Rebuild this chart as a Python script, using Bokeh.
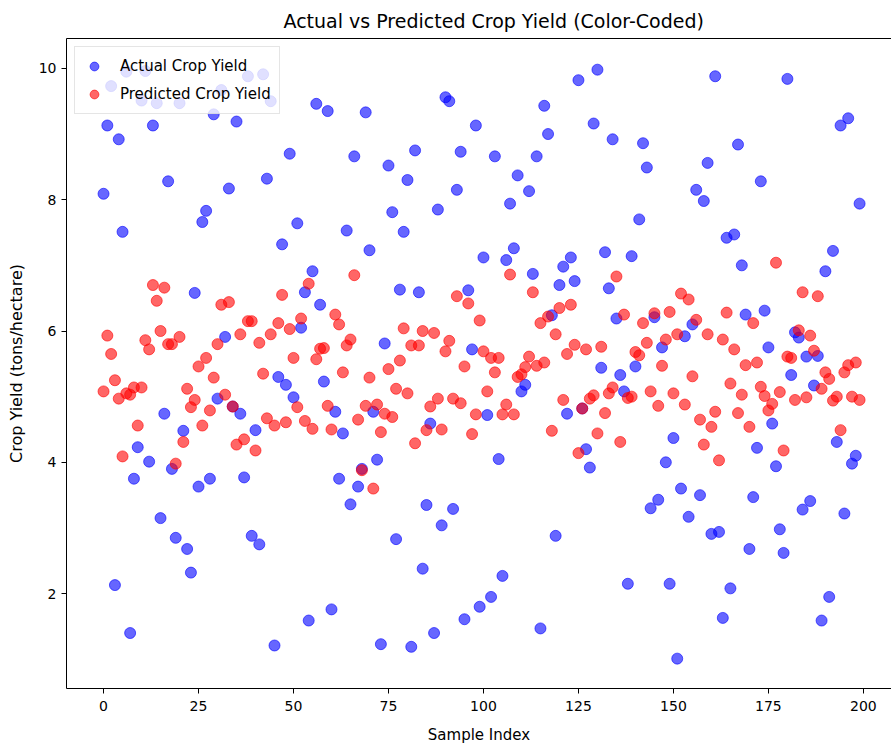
from bokeh.plotting import figure
from bokeh.models import Range1d, FixedTicker, LinearAxis
from bokeh.embed import file_html
from bokeh.resources import INLINE

# ---- data ----
actual = [
    8.09, 9.13, 9.73, 2.13, 8.92, 7.51, 9.95, 1.40, 3.75, 4.23,
    9.51, 9.96, 4.01, 9.13, 9.47, 3.15, 4.74, 8.28, 3.90, 2.85,
    9.47, 4.48, 2.68, 2.32, 6.58, 3.63, 7.66, 7.83, 3.75, 9.30,
    4.97, 9.67, 5.91, 8.17, 4.85, 9.19, 4.74, 3.77, 9.88, 2.88,
    4.49, 2.75, 9.91, 8.32, 9.50, 1.21, 5.30, 7.32, 5.18, 8.70,
    4.99, 7.64, 6.05, 6.59, 1.59, 6.91, 9.46, 6.40, 5.23, 9.35,
    1.76, 4.77, 3.75, 4.44, 7.53, 3.36, 8.66, 3.63, 3.90, 9.33,
    7.23, 4.77, 4.04, 1.23, 5.81, 8.52, 7.81, 2.83, 6.63, 7.51,
    8.30, 1.19, 8.75, 6.59, 2.38, 3.35, 4.59, 1.40, 7.85, 3.04,
    9.56, 9.50, 3.29, 8.15, 8.73, 1.61, 6.62, 5.72, 9.13, 1.80,
    7.12, 4.72, 1.95, 8.66, 4.05, 2.27, 7.08, 7.94, 7.26, 8.37,
    5.08, 5.18, 8.13, 6.87, 8.66, 1.47, 9.43, 9.00, 6.24, 2.88,
    6.70, 6.98, 4.74, 7.12, 6.76, 9.82, 4.82, 4.20, 3.92, 9.16,
    9.98, 5.44, 7.20, 6.65, 8.92, 6.19, 5.33, 5.08, 2.15, 7.14,
    5.46, 7.70, 8.86, 8.49, 3.30, 6.21, 3.43, 5.75, 4.00, 2.15,
    4.37, 1.01, 3.60, 5.92, 3.17, 6.10, 8.15, 3.50, 7.98, 8.56,
    2.91, 9.88, 2.94, 1.63, 7.42, 2.08, 7.47, 8.84, 7.00, 6.25,
    2.68, 3.47, 4.22, 8.28, 6.31, 5.75, 4.59, 3.94, 2.98, 2.62,
    9.84, 5.33, 5.98, 5.90, 3.28, 5.61, 3.41, 5.17, 5.62, 1.59,
    6.91, 1.95, 7.22, 4.31, 9.13, 3.22, 9.24, 3.98, 4.10, 7.94,
]
predicted = [
    5.08, 5.93, 5.65, 5.25, 4.97, 4.09, 5.05, 5.03, 5.14, 4.56,
    5.14, 5.86, 5.72, 6.70, 6.46, 6.00, 6.66, 5.80, 5.80, 3.98,
    5.91, 4.31, 5.12, 4.84, 4.95, 5.46, 4.56, 5.59, 4.79, 5.29,
    5.80, 6.40, 5.03, 6.44, 4.85, 4.27, 5.95, 4.35, 6.15, 6.15,
    4.18, 5.82, 5.35, 4.67, 5.95, 4.56, 6.12, 6.55, 4.61, 6.03,
    5.59, 4.84, 6.19, 4.63, 6.72, 4.51, 5.57, 5.73, 5.74, 4.86,
    4.50, 6.25, 6.10, 5.37, 5.78, 5.87, 6.85, 4.65, 3.88, 4.86,
    5.29, 3.60, 4.88, 4.46, 4.74, 5.42, 4.69, 5.12, 5.55, 6.04,
    5.05, 5.78, 4.29, 5.78, 6.00, 4.49, 4.85, 5.97, 4.97, 4.50,
    5.69, 5.85, 4.97, 6.53, 4.90, 5.46, 6.42, 4.43, 4.73, 6.16,
    5.69, 5.08, 5.59, 5.37, 5.59, 4.73, 4.88, 6.86, 4.73, 5.30,
    5.34, 5.45, 5.61, 6.59, 5.47, 6.12, 5.52, 6.22, 4.48, 5.95,
    6.35, 4.95, 5.65, 6.40, 5.79, 4.14, 4.82, 5.72, 4.97, 5.02,
    4.44, 5.76, 4.75, 5.05, 5.14, 6.83, 4.31, 6.25, 4.98, 5.00,
    5.68, 5.63, 6.12, 5.82, 5.08, 6.27, 4.86, 5.47, 5.87, 6.29,
    5.05, 5.95, 6.57, 4.88, 6.48, 5.31, 6.17, 4.65, 4.27, 5.95,
    4.54, 4.77, 4.03, 5.87, 6.28, 5.20, 5.72, 4.75, 5.03, 5.48,
    4.54, 6.12, 5.52, 5.15, 5.01, 4.79, 4.89, 7.04, 5.07, 4.18,
    5.61, 5.59, 4.95, 6.01, 6.59, 4.99, 5.93, 5.70, 6.53, 5.12,
    5.37, 5.27, 4.94, 5.00, 4.49, 5.37, 5.48, 5.00, 5.52, 4.95,
]
sample_index = list(range(len(actual)))
x_ticks = [0, 25, 50, 75, 100, 125, 150, 175, 200]
y_ticks = [2, 4, 6, 8, 10]

FONT = "DejaVu Sans"
X0, X1 = -9.75, 207.4
Y0, Y1 = 0.555, 10.455

p = figure(width=891, height=750, output_backend="svg", toolbar_location=None,
           x_range=Range1d(X0, X1), y_range=Range1d(Y0, Y1),
           title="Actual vs Predicted Crop Yield (Color-Coded)",
           min_border_left=66, min_border_right=0, min_border_top=38,
           min_border_bottom=62)

p.title.align = "left"
p.title.offset = 217
p.title.standoff = 14
p.title.text_font = FONT
p.title.text_font_size = "19px"
p.title.text_font_style = "normal"
p.title.text_color = "black"

p.outline_line_color = None
p.grid.visible = False
p.background_fill_color = "white"
p.border_fill_color = "white"

xa = p.below[0]
ya = p.left[0]

top_axis = LinearAxis(ticker=FixedTicker(ticks=[]), axis_line_color="black",
                      major_tick_line_color=None, minor_tick_line_color=None)
p.add_layout(top_axis, "above")

p.scatter(sample_index, actual, size=11, color="blue", alpha=0.6,
          legend_label="Actual Crop Yield")
p.scatter(sample_index, predicted, size=11, color="red", alpha=0.6,
          legend_label="Predicted Crop Yield")

for ax in (xa, ya):
    ax.axis_line_color = "black"
    ax.major_tick_line_color = "black"
    ax.major_tick_out = 5
    ax.major_tick_in = 0
    ax.minor_tick_line_color = None
    ax.major_label_text_font = FONT
    ax.major_label_text_font_size = "14px"
    ax.major_label_text_color = "black"
    ax.axis_label_text_font = FONT
    ax.axis_label_text_font_style = "normal"
    ax.axis_label_text_color = "black"

xa.ticker = FixedTicker(ticks=x_ticks)
ya.ticker = FixedTicker(ticks=y_ticks)
xa.axis_label = "Sample Index"
ya.axis_label = "Crop Yield (tons/hectare)"
xa.axis_label_text_font_size = "15px"
ya.axis_label_text_font_size = "16px"
xa.axis_label_standoff = 12
ya.axis_label_standoff = 10
xa.major_label_standoff = 7
ya.major_label_standoff = 5

lg = p.legend[0]
lg.location = "top_left"
lg.margin = 8
lg.padding = 8
lg.spacing = 6
lg.glyph_width = 22
lg.glyph_height = 22
lg.label_standoff = 15
lg.label_text_font = FONT
lg.label_text_font_size = "15px"
lg.label_text_color = "black"
lg.background_fill_color = "white"
lg.background_fill_alpha = 0.8
lg.border_line_color = "#cccccc"
lg.border_line_width = 1

open("out.html", "w").write(file_html(p, INLINE))
